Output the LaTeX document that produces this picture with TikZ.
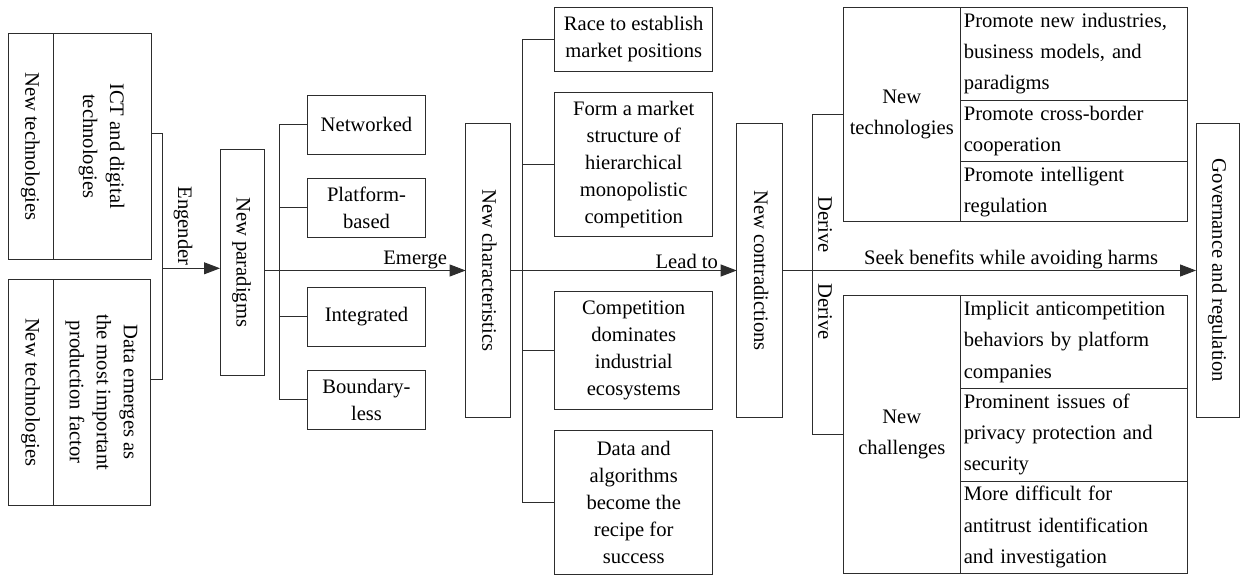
\documentclass[tikz,border=0pt]{standalone}
\usepackage{fontspec}
\setmainfont{Liberation Serif}
\usepackage{graphicx}
\usetikzlibrary{arrows.meta, positioning}
\definecolor{lnblack}{RGB}{45,45,45}
% text turned to read from top to bottom
\newcommand{\downtext}[1]{\rotatebox{-90}{\begin{tabular}{@{}c@{}}#1\end{tabular}}}

\begin{document}
\begin{tikzpicture}[x=1pt, y=-1pt,
  font=\fontsize{20.6}{27}\selectfont,
  box/.style={rectangle, draw=lnblack, line width=0.9pt, align=center, inner sep=2pt, outer sep=0pt},
  vbox/.style={box, minimum height=293.3pt},
  pbox/.style={box, minimum width=118.4pt, minimum height=59pt},
  cbox/.style={box, minimum width=158pt},
  lcell/.style={box, minimum width=117pt, font=\fontsize{20.6}{31.2}\selectfont},
  tcell/.style={box, minimum width=227pt, text width=220pt, align=left, font=\fontsize{20.6}{31.2}\selectfont},
  link/.style={draw=lnblack, line width=0.9pt},
  arr/.style={link, -{Triangle[length=16pt, width=12pt]}},
  lbl/.style={inner sep=1.5pt}
]
\useasboundingbox (0,0) rectangle (1240,575);

% sources
\node[box, minimum width=45pt, minimum height=226pt] (ntA) at (30.8,146.3) {\downtext{New technologies}};
\node[box, right=0pt of ntA, minimum width=97.7pt, minimum height=226pt] (ict) {\downtext{ICT and digital\\technologies}};
\node[box, minimum width=45pt, minimum height=225.7pt] (ntB) at (31,392.2) {\downtext{New technologies}};
\node[box, right=0pt of ntB, minimum width=97.3pt, minimum height=225.7pt] (dat) {\downtext{Data emerges as\\the most important\\production factor}};

% paradigms
\node[box, minimum width=44pt, minimum height=225.7pt] (par) at (242,262.2) {\downtext{New paradigms}};
\node[pbox] (net) at (366.5,124.5) {Networked};
\node[pbox] (plat) at (366.5,207.8) {Platform-\\based};
\node[pbox] (integ) at (366.5,316.7) {Integrated};
\node[pbox] (bnd) at (366.5,399.7) {Boundary-\\less};

% characteristics
\node[vbox, minimum width=44.3pt] (chr) at (487.8,270.5) {\downtext{New characteristics}};
\node[cbox, minimum height=64.4pt] (race) at (633.7,39.5) {Race to establish\\market positions};
\node[cbox, minimum height=144pt] (form) at (633.7,164.7) {Form a market\\structure of\\hierarchical\\monopolistic\\competition};
\node[cbox, minimum height=117.6pt] (comp) at (633.7,350.5) {Competition\\dominates\\industrial\\ecosystems};
\node[cbox, minimum height=144.3pt] (rcp) at (633.7,502.2) {Data and\\algorithms\\become the\\recipe for\\success};

% contradictions and governance
\node[vbox, minimum width=45.6pt] (con) at (759.5,270.5) {\downtext{New contradictions}};
\node[vbox, minimum width=43.3pt] (gov) at (1217.7,270.5) {\downtext{Governance and regulation}};

% upper table
\node[lcell, minimum height=214.4pt] (tech) at (901.8,114.5) {New\\technologies};
\node[tcell, minimum height=92.7pt, anchor=north west] (pa) at (tech.north east) {Promote new industries,\\business models, and\\paradigms};
\node[tcell, minimum height=61.7pt, below=0pt of pa] (pb) {Promote cross-border\\cooperation};
\node[tcell, minimum height=60pt, below=0pt of pb] (pc) {Promote intelligent\\regulation};

% lower table
\node[lcell, minimum height=277.6pt] (chal) at (901.8,434.5) {New\\challenges};
\node[tcell, minimum height=92.6pt, anchor=north west] (ca) at (chal.north east) {Implicit anticompetition\\behaviors by platform\\companies};
\node[tcell, minimum height=92.7pt, below=0pt of ca] (cb) {Prominent issues of\\privacy protection and\\security};
\node[tcell, minimum height=92.3pt, below=0pt of cb] (cc) {More difficult for\\antitrust identification\\and investigation};

% connectors
\coordinate (eng) at (162.3,268.3);
\draw[link] ([yshift=13pt]ict.east) -| (eng);
\draw[link] ([yshift=13pt]dat.east) -| (eng);
\draw[arr] (eng) -- (eng -| par.west);
\node[lbl, rotate=-90] (engl) at (183,226) {Engender};

\draw[link] (net.west) -- ++(-28,0) |- (bnd.west);
\draw[link] (plat.west) -- ++(-28,0);
\draw[link] (integ.west) -- ++(-28,0);
\draw[arr] (par.east |- chr.west) -- node[lbl, pos=0.75, above] {Emerge} (chr.west);

\draw[link] (race.west) -- ++(-32,0) |- (rcp.west);
\draw[link] (form.west) -- ++(-32,0);
\draw[link] (comp.west) -- ++(-32,0);
\draw[arr] (chr.east) -- node[lbl, pos=0.78, above] {Lead to} (con.west);

\draw[link] (tech.west) -- ++(-30.6,0) |- (chal.west);
\node[lbl, rotate=-90] (drv1) at (825,225) {Derive};
\node[lbl, rotate=-90] (drv2) at (825,312) {Derive};
\draw[arr] (con.east) -- node[lbl, pos=0.553, above] {Seek benefits while avoiding harms} (gov.west);
\end{tikzpicture}
\end{document}
